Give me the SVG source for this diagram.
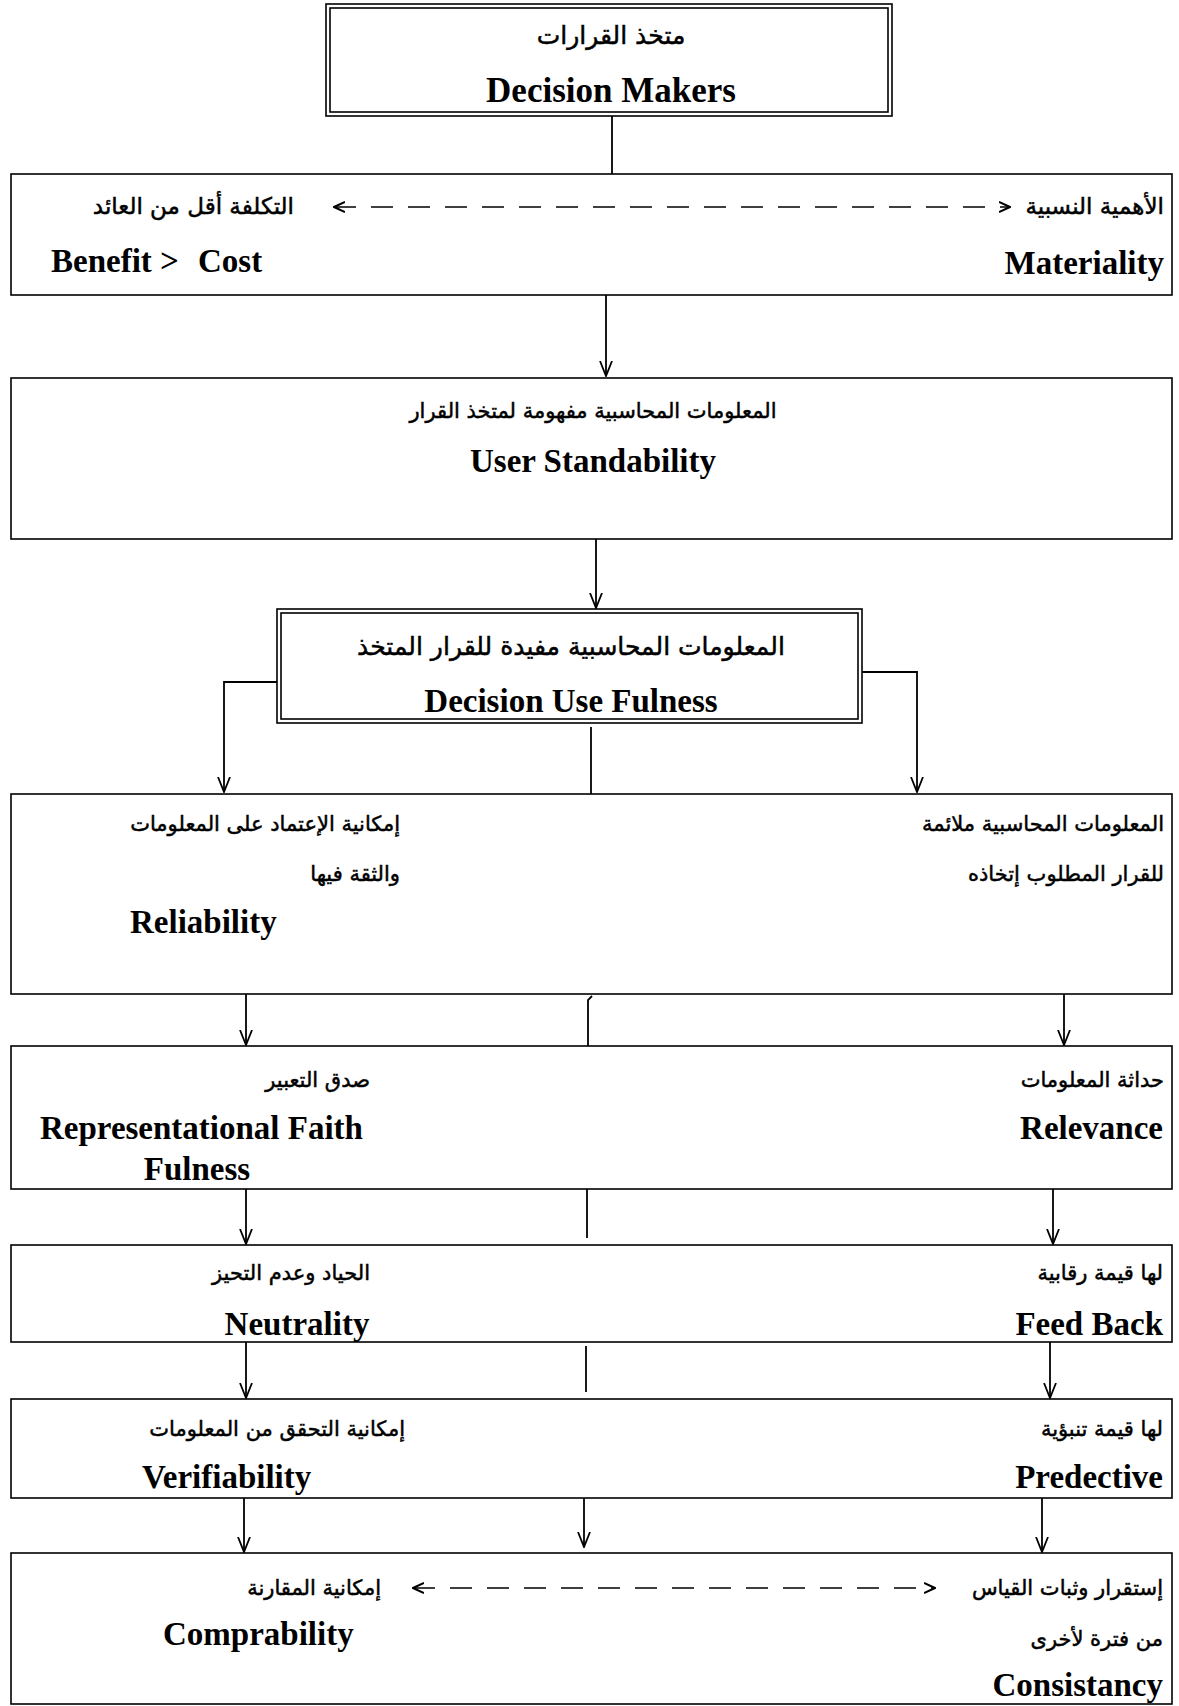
<svg xmlns="http://www.w3.org/2000/svg" width="1179" height="1706" viewBox="0 0 1179 1706">
<style>
.box{fill:none;stroke:#000;stroke-width:1.6}
.ln{fill:none;stroke:#000;stroke-width:1.8}
.dash{fill:none;stroke:#000;stroke-width:1.6;stroke-dasharray:22 15}
.en{font-family:"Liberation Serif",serif;font-weight:bold;font-size:33px;fill:#000}
.enL{font-family:"Liberation Serif",serif;font-weight:bold;font-size:35px;fill:#000}
.ar,.ar2,.arL,.arXL{font-family:"DejaVu Sans",sans-serif;fill:#000;stroke:#000;stroke-width:0.5}
.ar{font-size:21px}
.ar2{font-size:23px}
.arL{font-size:24px}
.arXL{font-size:25px}
</style>
<defs>
<marker id="arr" viewBox="0 0 16 14" refX="15" refY="7" markerWidth="16" markerHeight="14" markerUnits="userSpaceOnUse" orient="auto">
<path d="M0,1 L15,7 L0,13" fill="none" stroke="#000" stroke-width="1.8"/>
</marker>
<marker id="sarr" viewBox="0 0 12 12" refX="11" refY="6" markerWidth="12" markerHeight="12" markerUnits="userSpaceOnUse" orient="auto-start-reverse">
<path d="M0,1 L11,6 L0,11" fill="none" stroke="#000" stroke-width="2"/>
</marker>
</defs>
<rect width="1179" height="1706" fill="#fff"/>

<g id="connectors">
<line class="ln" x1="612" y1="116" x2="612" y2="174"/>
<line class="ln" x1="606" y1="295" x2="606" y2="376" marker-end="url(#arr)"/>
<line class="ln" x1="596" y1="539" x2="596" y2="608" marker-end="url(#arr)"/>
<polyline class="ln" points="277,682 224,682 224,792" marker-end="url(#arr)"/>
<polyline class="ln" points="862,672 917,672 917,792" marker-end="url(#arr)"/>
<line class="ln" x1="591" y1="727" x2="591" y2="794"/>
<line class="ln" x1="246" y1="994" x2="246" y2="1045" marker-end="url(#arr)"/>
<polyline class="ln" points="588,1046 588,1000 592,996"/>
<line class="ln" x1="1064" y1="994" x2="1064" y2="1045" marker-end="url(#arr)"/>
<line class="ln" x1="246" y1="1189" x2="246" y2="1244" marker-end="url(#arr)"/>
<line class="ln" x1="587" y1="1189" x2="587" y2="1238"/>
<line class="ln" x1="1053" y1="1189" x2="1053" y2="1244" marker-end="url(#arr)"/>
<line class="ln" x1="246" y1="1342" x2="246" y2="1398" marker-end="url(#arr)"/>
<line class="ln" x1="586" y1="1346" x2="586" y2="1392"/>
<line class="ln" x1="1050" y1="1342" x2="1050" y2="1398" marker-end="url(#arr)"/>
<line class="ln" x1="244" y1="1498" x2="244" y2="1552" marker-end="url(#arr)"/>
<line class="ln" x1="584" y1="1498" x2="584" y2="1547" marker-end="url(#arr)"/>
<line class="ln" x1="1042" y1="1498" x2="1042" y2="1552" marker-end="url(#arr)"/>
<line class="dash" x1="334" y1="207" x2="1010" y2="207" marker-start="url(#sarr)" marker-end="url(#sarr)"/>
<line class="dash" x1="413" y1="1588" x2="935" y2="1588" marker-start="url(#sarr)" marker-end="url(#sarr)"/>
</g>

<g id="decision-makers">
<rect class="box" x="326" y="4" width="566" height="112"/>
<rect class="box" x="330" y="8" width="558" height="104"/>
<text class="arXL" x="611" y="44" text-anchor="middle">متخذ القرارات</text>
<text class="enL" x="611" y="102" text-anchor="middle">Decision Makers</text>
</g>

<g id="materiality-benefit">
<rect class="box" x="11" y="174" width="1161" height="121"/>
<text class="ar2" x="1164" y="214" text-anchor="end">الأهمية النسبية</text>
<text class="ar2" x="294" y="214" text-anchor="end">التكلفة أقل من العائد</text>
<text class="en" x="51" y="272">Benefit &gt;</text>
<text class="en" x="198" y="272">Cost</text>
<text class="en" x="1164" y="274" text-anchor="end">Materiality</text>
</g>

<g id="user-standability">
<rect class="box" x="11" y="378" width="1161" height="161"/>
<text class="ar" x="593" y="418" text-anchor="middle">المعلومات المحاسبية مفهومة لمتخذ القرار</text>
<text class="en" x="593" y="472" text-anchor="middle">User Standability</text>
</g>

<g id="decision-usefulness">
<rect class="box" x="277" y="609" width="585" height="114"/>
<rect class="box" x="281" y="613" width="577" height="106"/>
<text class="arXL" x="571" y="655" text-anchor="middle">المعلومات المحاسبية مفيدة للقرار المتخذ</text>
<text class="en" x="571" y="712" text-anchor="middle">Decision Use Fulness</text>
</g>

<g id="relevance-reliability">
<rect class="box" x="11" y="794" width="1161" height="200"/>
<text class="ar" x="1164" y="831" text-anchor="end">المعلومات المحاسبية ملائمة</text>
<text class="ar" x="1164" y="881" text-anchor="end">للقرار المطلوب إتخاذه</text>
<text class="ar" x="400" y="831" text-anchor="end">إمكانية الإعتماد على المعلومات</text>
<text class="ar" x="400" y="881" text-anchor="end">والثقة فيها</text>
<text class="en" x="130" y="933">Reliability</text>
</g>

<g id="relevance-faithfulness">
<rect class="box" x="11" y="1046" width="1161" height="143"/>
<text class="ar" x="370" y="1087" text-anchor="end">صدق التعبير</text>
<text class="en" x="40" y="1139">Representational Faith</text>
<text class="en" x="197" y="1180" text-anchor="middle">Fulness</text>
<text class="ar" x="1164" y="1087" text-anchor="end">حداثة المعلومات</text>
<text class="en" x="1163" y="1139" text-anchor="end">Relevance</text>
</g>

<g id="feedback-neutrality">
<rect class="box" x="11" y="1245" width="1161" height="97"/>
<text class="ar" x="370" y="1280" text-anchor="end">الحياد وعدم التحيز</text>
<text class="en" x="297" y="1335" text-anchor="middle">Neutrality</text>
<text class="ar" x="1163" y="1280" text-anchor="end">لها قيمة رقابية</text>
<text class="en" x="1163" y="1335" text-anchor="end">Feed Back</text>
</g>

<g id="predictive-verifiability">
<rect class="box" x="11" y="1399" width="1161" height="99"/>
<text class="ar" x="405" y="1436" text-anchor="end">إمكانية التحقق من المعلومات</text>
<text class="en" x="142" y="1488">Verifiability</text>
<text class="ar" x="1163" y="1436" text-anchor="end">لها قيمة تنبؤية</text>
<text class="en" x="1163" y="1488" text-anchor="end">Predective</text>
</g>

<g id="consistency-comparability">
<rect class="box" x="11" y="1553" width="1161" height="151"/>
<text class="ar" x="381" y="1595" text-anchor="end">إمكانية المقارنة</text>
<text class="en" x="163" y="1645">Comprability</text>
<text class="ar" x="1163" y="1595" text-anchor="end">إستقرار وثبات القياس</text>
<text class="ar" x="1163" y="1646" text-anchor="end">من فترة لأخرى</text>
<text class="en" x="1163" y="1696" text-anchor="end">Consistancy</text>
</g>
</svg>
